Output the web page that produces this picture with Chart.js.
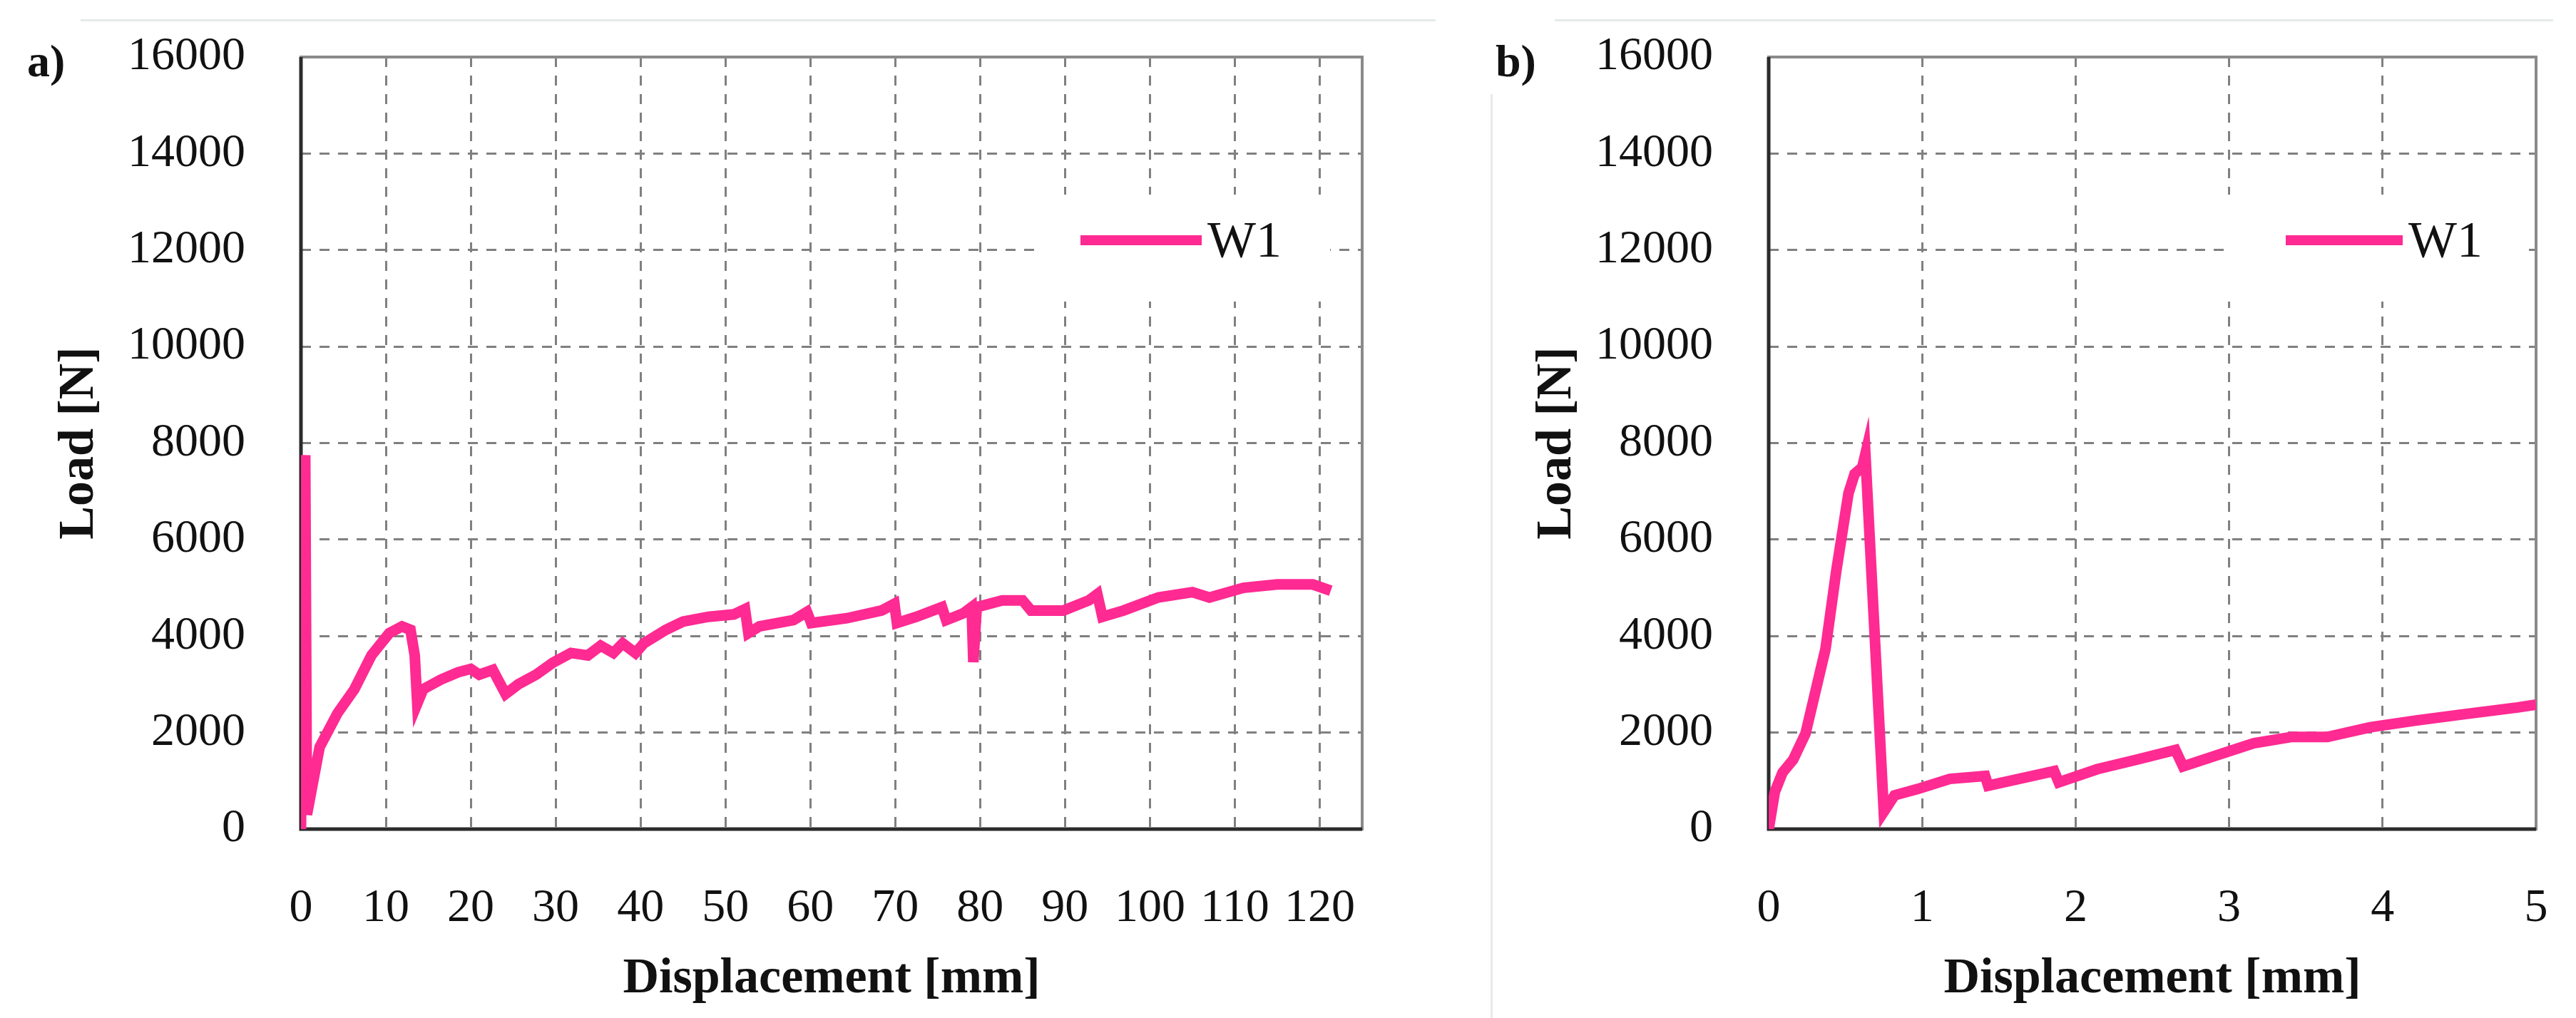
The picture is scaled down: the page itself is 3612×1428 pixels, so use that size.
<!DOCTYPE html>
<html>
<head>
<meta charset="utf-8">
<script src="https://cdn.jsdelivr.net/npm/chart.js@4"></script>
<style>
  body { margin: 0; background: #fff; width: 3612px; height: 1428px; position: relative; overflow: hidden; }
  canvas { position: absolute; top: 0; }
  .rule { position: absolute; background: #e6eaea; }
</style>
</head>
<body>
<div class="rule" style="left:113px;top:27px;width:1900px;height:3px"></div>
<div class="rule" style="left:2180px;top:27px;width:1400px;height:3px"></div>
<div class="rule" style="left:2090px;top:132px;width:3px;height:1296px"></div>
<canvas id="chartA" width="2000" height="1428" style="left:0"></canvas>
<canvas id="chartB" width="1520" height="1428" style="left:2092px"></canvas>
<script>
// panel a) displacement [mm] / load [N]
const dispA = [0, 0.2, 0.5, 0.7, 2.2, 4.3, 6.3, 8.3, 10.4, 11.9, 12.9, 13.4, 13.7, 14.4, 16.5, 18.5, 20, 21, 22.6, 24.1,
  25.6, 27.7, 29.7, 31.8, 33.8, 35.3, 36.8, 37.9, 39.4, 40.4, 43, 45, 48, 51, 52.3, 52.7, 54, 58, 59.6, 60.1,
  64.3, 68.4, 69.9, 70.2, 72.5, 75.5, 76, 78, 79, 79.2, 79.6, 82.6, 85, 86, 89.8, 92.8, 93.8, 94.4, 96.9,
  101, 105, 107, 111, 115, 119.2, 121.3];
const loadA = [0, 6300, 7750, 300, 1700, 2400, 2900, 3600, 4060, 4200, 4130, 3600, 2600, 2900, 3100, 3250, 3320, 3200, 3300, 2800,
  3000, 3200, 3450, 3650, 3600, 3800, 3650, 3850, 3650, 3850, 4130, 4300, 4400, 4450, 4560, 4060, 4200, 4330, 4500, 4270,
  4370, 4530, 4670, 4270, 4400, 4600, 4330, 4470, 4600, 3460, 4600, 4740, 4740, 4530, 4530, 4740, 4870, 4400, 4530,
  4800, 4910, 4800, 5000, 5070, 5070, 4940];
const ticksA = [0, 10, 20, 30, 40, 50, 60, 70, 80, 90, 100, 110, 120];

// panel b)
const dispB = [0, 0.04, 0.09, 0.16, 0.24, 0.31, 0.37, 0.44, 0.52, 0.56, 0.61, 0.63, 0.75, 0.82, 0.97, 1.18, 1.41, 1.43,
  1.63, 1.86, 1.89, 2.14, 2.4, 2.65, 2.7, 2.9, 3.16, 3.41, 3.64, 3.92, 4.22, 4.53, 4.88, 5.0];
const loadB = [0, 770, 1170, 1440, 1980, 2920, 3730, 5340, 6960, 7360, 7500, 7770, 360, 700, 830, 1040, 1100, 900,
  1040, 1200, 970, 1240, 1440, 1640, 1300, 1510, 1780, 1910, 1910, 2110, 2250, 2380, 2520, 2580];
const ticksB = [0, 1, 2, 3, 4, 5];

const seriesName = "W1";
const yMax = 16000, yStep = 2000;

const PINK = "#ff2a92";
const FONT = "'Liberation Serif', 'DejaVu Serif', serif";

function framePlugin(opts) {
  return {
    id: "frame",
    beforeDatasetsDraw(chart) {
      const { ctx, chartArea: a } = chart;
      ctx.save();
      ctx.setLineDash([]);
      ctx.strokeStyle = "#8a8a8a";
      ctx.lineWidth = 4;
      ctx.strokeRect(a.left, a.top, a.right - a.left, a.bottom - a.top);
      ctx.strokeStyle = "#2b2b2b";
      ctx.lineWidth = 5;
      ctx.beginPath();
      ctx.moveTo(a.left, a.top);
      ctx.lineTo(a.left, a.bottom);
      ctx.lineTo(a.right, a.bottom);
      ctx.stroke();
      // legend box
      ctx.fillStyle = "#fff";
      ctx.fillRect(opts.box[0], opts.box[1], opts.box[2], opts.box[3]);
      ctx.strokeStyle = PINK;
      ctx.lineWidth = 14;
      ctx.beginPath();
      ctx.moveTo(opts.line[0], opts.line[2]);
      ctx.lineTo(opts.line[1], opts.line[2]);
      ctx.stroke();
      ctx.fillStyle = "#111";
      ctx.font = "72px " + FONT;
      ctx.textBaseline = "middle";
      ctx.fillText(seriesName, opts.line[1] + 8, opts.line[2] + 4);
      // panel letter
      ctx.font = "bold 64px " + FONT;
      ctx.fillText(opts.letter, opts.letterX, 90);
      ctx.restore();
    }
  };
}

function makeChart(id, xs, ys, xMax, xTicks, yAxisW, padL, padR, frame) {
  return new Chart(document.getElementById(id), {
    type: "scatter",
    data: {
      datasets: [{
        label: seriesName,
        data: xs.map((x, i) => ({ x: x, y: ys[i] })),
        showLine: true,
        borderColor: PINK,
        borderWidth: 15,
        pointRadius: 0,
        tension: 0
      }]
    },
    options: {
      responsive: false,
      animation: false,
      layout: { padding: { left: padL, right: padR, top: 80, bottom: 12 } },
      plugins: { legend: { display: false }, tooltip: { enabled: false } },
      scales: {
        x: {
          type: "linear",
          min: 0, max: xMax,
          afterBuildTicks(s) { s.ticks = xTicks.map(v => ({ value: v })); },
          afterFit(s) { s.height = 1428 - 1163 - 12; s.paddingLeft = 0; s.paddingRight = 0; },
          border: { display: false, dash: [14, 12] },
          grid: { color: "#808080", lineWidth: 3, drawTicks: false },
          ticks: { autoSkip: false, maxRotation: 0, padding: 72, color: "#111", font: { family: FONT, size: 66 },
                   callback: v => String(v) },
          title: { display: true, text: "Displacement [mm]", color: "#111", padding: { top: 0, bottom: 0 },
                   font: { family: FONT, size: 70, weight: "bold" } }
        },
        y: {
          min: 0, max: yMax,
          afterFit(s) { s.width = yAxisW; s.paddingTop = 0; s.paddingBottom = 0; },
          border: { display: false, dash: [14, 12] },
          grid: { color: "#808080", lineWidth: 3, drawTicks: false },
          ticks: { stepSize: yStep, padding: 78, color: "#111", font: { family: FONT, size: 66 },
                   callback: v => String(v) },
          title: { display: true, text: "Load [N]", color: "#111", padding: { top: 10, bottom: 0 },
                   font: { family: FONT, size: 70, weight: "bold" } }
        }
      }
    },
    plugins: [framePlugin(frame)]
  });
}

const chartA = makeChart("chartA", dispA, loadA, 125, ticksA, 362, 60, 90,
  { box: [1455, 273, 410, 150], line: [1515, 1685, 337], letter: "a)", letterX: 38 });
const chartB = makeChart("chartB", dispB, loadB, 5, ticksB, 348, 40, 56,
  { box: [1031, 273, 417, 150], line: [1113, 1277, 337], letter: "b)", letterX: 5 });
</script>
</body>
</html>
